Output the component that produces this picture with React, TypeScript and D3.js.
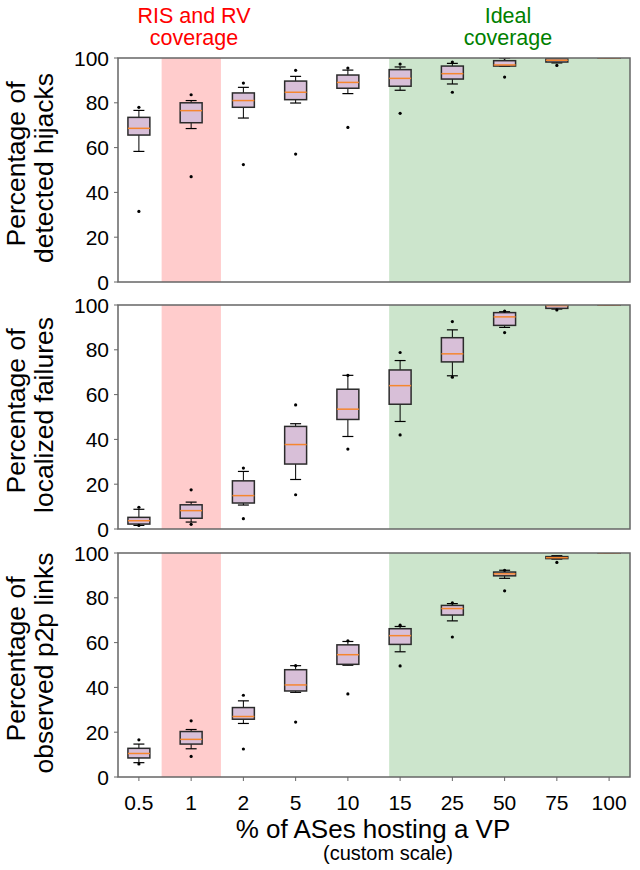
import React from "react";
import * as d3 from "d3";

const categories = ["0.5", "1", "2", "5", "10", "15", "25", "50", "75", "100"];
const yTicks = [0, 20, 40, 60, 80, 100];

// Panel 1: detected hijacks
const hijackLow = [58.3, 68.5, 73.2, 79.9, 84.1, 85.6, 88.4, 96.3, 97.8, 100];
const hijackQ1 = [65.6, 71.1, 78.0, 81.4, 86.5, 87.4, 90.6, 96.4, 98.2, 100];
const hijackMed = [68.6, 76.5, 81.0, 84.7, 89.1, 90.9, 93.0, 96.9, 99.0, 100];
const hijackQ3 = [73.5, 80.0, 84.4, 89.7, 92.4, 94.8, 96.4, 98.8, 99.7, 100];
const hijackHigh = [76.6, 81.0, 86.9, 91.8, 94.6, 96.0, 97.6, 99.9, 100, 100];
const hijackFliers = [[78, 31.5], [83.6, 47], [88.8, 52.4], [94.5, 57.1], [95.5, 69], [97.3, 75.3], [98.2, 84.7], [100, 91.5], [96.7], []];

// Panel 2: localized failures
const failLow = [1.6, 3.1, 10.7, 22.1, 41.3, 48.0, 68.4, 90.0, 98.2, 100];
const failQ1 = [2.2, 4.8, 11.6, 29.0, 48.9, 55.7, 74.6, 90.9, 98.5, 100];
const failMed = [3.7, 8.2, 14.9, 37.7, 53.5, 64.0, 78.2, 94.7, 99.7, 100];
const failQ3 = [5.2, 10.8, 21.5, 45.8, 62.4, 71.0, 85.4, 96.6, 100, 100];
const failHigh = [8.8, 12.0, 25.7, 47.0, 68.6, 75.2, 88.9, 97.0, 100, 100];
const failFliers = [[9.7, 1.6], [17.5, 2.1], [27.2, 4.6], [55.4, 15.3], [68.6, 35.7], [78.8, 42], [92.6, 67.8], [97.3, 87.7], [97.8], []];

// Panel 3: observed p2p links
const p2pLow = [6.4, 12.6, 23.9, 37.8, 49.9, 55.9, 69.7, 88.7, 97.3, 100];
const p2pQ1 = [8.5, 14.7, 25.8, 38.4, 50.3, 59.2, 72.3, 89.8, 97.5, 100];
const p2pMed = [10.5, 16.8, 27.0, 41.1, 54.6, 63.1, 75.2, 90.7, 97.9, 100];
const p2pQ3 = [12.8, 20.3, 31.0, 47.9, 59.0, 66.2, 76.6, 91.5, 98.4, 100];
const p2pHigh = [14.7, 21.2, 34.0, 49.7, 60.5, 67.2, 77.4, 92.3, 98.8, 100];
const p2pFliers = [[16.6, 5.8], [25.1, 9.2], [36.5, 12.5], [49.7, 24.5], [60.8, 37.1], [67.8, 49.6], [77.7, 62.5], [92.3, 83.1], [95.8], []];

const panelLabels = [
  ["Percentage of", "detected hijacks"],
  ["Percentage of", "localized failures"],
  ["Percentage of", "observed p2p links"],
];

const redSpan = [1.435, 2.57];
const greenSpan = [5.79, 10.4];

const FONT = "'Liberation Sans', Arial, Helvetica, sans-serif";
const LEFT = 118;
const RIGHT = 630;
const PANEL_TOPS = [58, 305, 553];
const PANEL_H = 224;

type Panel = {
  low: number[]; q1: number[]; med: number[]; q3: number[]; high: number[]; fliers: number[][];
};

const panels: Panel[] = [
  { low: hijackLow, q1: hijackQ1, med: hijackMed, q3: hijackQ3, high: hijackHigh, fliers: hijackFliers },
  { low: failLow, q1: failQ1, med: failMed, q3: failQ3, high: failHigh, fliers: failFliers },
  { low: p2pLow, q1: p2pQ1, med: p2pMed, q3: p2pQ3, high: p2pHigh, fliers: p2pFliers },
];

export default function App() {
  const x = d3.scaleLinear().domain([0.6, 10.4]).range([LEFT, RIGHT]);
  const unit = x(2) - x(1);
  const boxW = 0.42 * unit;
  const capW = boxW / 2;

  return (
    <svg width={640} height={870} style={{ position: "absolute", left: 0, top: 0 }} fontFamily={FONT}>
      <rect x={0} y={0} width={640} height={870} fill="#ffffff" />
      {/* Region titles */}
      <text x={194} y={23} textAnchor="middle" fontSize={21.5} fill="#ff0000">RIS and RV</text>
      <text x={194} y={45} textAnchor="middle" fontSize={21.5} fill="#ff0000">coverage</text>
      <text x={508} y={23} textAnchor="middle" fontSize={21.5} fill="#008000">Ideal</text>
      <text x={508} y={45} textAnchor="middle" fontSize={21.5} fill="#008000">coverage</text>

      {panels.map((p, pi) => {
        const top = PANEL_TOPS[pi];
        const y = d3.scaleLinear().domain([0, 100]).range([top + PANEL_H, top]);
        const clipId = `clip${pi}`;
        const cy = top + PANEL_H / 2;
        return (
          <g key={pi}>
            <defs>
              <clipPath id={clipId}>
                <rect x={LEFT} y={top} width={RIGHT - LEFT} height={PANEL_H} />
              </clipPath>
            </defs>
            <g clipPath={`url(#${clipId})`}>
              <rect x={x(redSpan[0])} y={top} width={x(redSpan[1]) - x(redSpan[0])} height={PANEL_H} fill="#ffcccc" />
              <rect x={x(greenSpan[0])} y={top} width={x(greenSpan[1]) - x(greenSpan[0])} height={PANEL_H} fill="#cce5cc" />
              {categories.map((c, i) => {
                const cx = x(i + 1);
                return (
                  <g key={c}>
                    <line x1={cx} x2={cx} y1={y(p.q3[i])} y2={y(p.high[i])} stroke="#000" strokeWidth={1} />
                    <line x1={cx} x2={cx} y1={y(p.q1[i])} y2={y(p.low[i])} stroke="#000" strokeWidth={1} />
                    <line x1={cx - capW / 2} x2={cx + capW / 2} y1={y(p.high[i])} y2={y(p.high[i])} stroke="#000" strokeWidth={1.2} />
                    <line x1={cx - capW / 2} x2={cx + capW / 2} y1={y(p.low[i])} y2={y(p.low[i])} stroke="#000" strokeWidth={1.2} />
                    <rect x={cx - boxW / 2} y={y(p.q3[i])} width={boxW} height={Math.max(0.01, y(p.q1[i]) - y(p.q3[i]))}
                      fill="#d8bfd8" stroke="#2b2b2b" strokeWidth={1.5} />
                    <line x1={cx - boxW / 2} x2={cx + boxW / 2} y1={y(p.med[i])} y2={y(p.med[i])} stroke="#f5862f" strokeWidth={1.5} />
                    {p.fliers[i].map((f, k) => (
                      <circle key={k} cx={cx} cy={y(f)} r={1.6} fill="#000" />
                    ))}
                  </g>
                );
              })}
            </g>
            {/* spines */}
            <rect x={LEFT} y={top} width={RIGHT - LEFT} height={PANEL_H} fill="none" stroke="#666666" strokeWidth={1.5} />
            {/* y ticks */}
            {yTicks.map((t) => (
              <g key={t}>
                <line x1={LEFT - 4} x2={LEFT} y1={y(t)} y2={y(t)} stroke="#666666" strokeWidth={1} />
                <text x={LEFT - 9} y={y(t)} dy="0.36em" textAnchor="end" fontSize={21} fill="#000">{t}</text>
              </g>
            ))}
            {/* y label */}
            <g transform={`translate(25, ${cy - 6}) rotate(-90)`}>
              <text x={0} y={0} textAnchor="middle" fontSize={26.5} fill="#000">{panelLabels[pi][0]}</text>
            </g>
            <g transform={`translate(53, ${cy - 2}) rotate(-90)`}>
              <text x={0} y={0} textAnchor="middle" fontSize={26.5} fill="#000">{panelLabels[pi][1]}</text>
            </g>
            {pi === 2 &&
              categories.map((c, i) => (
                <g key={c}>
                  <line x1={x(i + 1)} x2={x(i + 1)} y1={top + PANEL_H} y2={top + PANEL_H + 4} stroke="#666666" strokeWidth={1} />
                  <text x={x(i + 1)} y={810} textAnchor="middle" fontSize={21} fill="#000">{c}</text>
                </g>
              ))}
          </g>
        );
      })}
      <text x={373} y={838} textAnchor="middle" fontSize={26} fill="#000">% of ASes hosting a VP</text>
      <text x={388} y={860} textAnchor="middle" fontSize={20} fill="#000">(custom scale)</text>
    </svg>
  );
}
